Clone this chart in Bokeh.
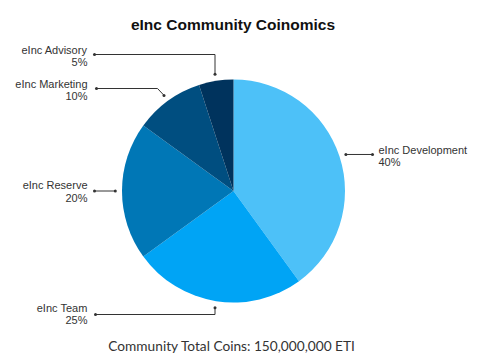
import math
from bokeh.plotting import figure
from bokeh.models import Range1d, ColumnDataSource
from bokeh.core.properties import value
from bokeh.embed import file_html
from bokeh.resources import INLINE

# ---- data ----
categories = ["eInc Development", "eInc Team", "eInc Reserve", "eInc Marketing", "eInc Advisory"]
shares = [40, 25, 20, 10, 5]
colors = ["#4DC1F8", "#00A4F5", "#0077B6", "#004E80", "#00335D"]
title_text = "eInc Community Coinomics"
footer_text = "Community Total Coins: 150,000,000 ETI"

# ---- layout (reference pixel coordinates, y downward) ----
W, H = 474, 355
CX, CY, R = 233.0, 190.5, 111.5
LEAD_R = 1.06 * R
# per label: side, lead_y, elbow_dx, end_x, text_x, line1_y, line2_y
layout = {
    "eInc Development": ("left", None, 0.0, 372.0, 378.0, 149.0, 161.0),
    "eInc Team": ("right", 314.0, 0.0, 95.0, 87.0, 307.5, 319.5),
    "eInc Reserve": ("right", None, 0.0, 94.0, 87.0, 184.0, 197.0),
    "eInc Marketing": ("right", 88.0, -6.5, 96.0, 87.0, 83.0, 95.5),
    "eInc Advisory": ("right", 54.0, 0.0, 94.0, 87.0, 49.0, 61.0),
}

def Y(y):
    return 363.0 - y

p = figure(width=W, height=H, output_backend="svg", toolbar_location=None,
           x_range=Range1d(0, W), y_range=Range1d(363 - H, 363),
           min_border=0)
p.axis.visible = False
p.grid.visible = False
p.outline_line_color = None
p.background_fill_color = "white"

total = float(sum(shares))
starts, ends, mids = [], [], []
c = 0.0
for s in shares:
    c0 = c / total
    c1 = (c + s) / total
    starts.append(math.pi / 2 - 2 * math.pi * c1)
    ends.append(math.pi / 2 - 2 * math.pi * c0)
    mids.append(2 * math.pi * (c0 + c1) / 2)  # clockwise from top
    c += s

src = ColumnDataSource(dict(x=[CX] * len(shares), y=[Y(CY)] * len(shares),
                            start=starts, end=ends, color=colors))
p.wedge(x="x", y="y", radius=R, start_angle="start", end_angle="end",
        fill_color="color", line_color=None, source=src)

line_color = "#333333"
dots_x, dots_y = [], []
for cat, s, m in zip(categories, shares, mids):
    side, lead_y, edx, end_x, text_x, y1, y2 = layout[cat]
    ex = CX + LEAD_R * math.sin(m)
    ey = CY - LEAD_R * math.cos(m)
    if lead_y is None:
        lead_y = ey
        pts = [(ex, ey), (end_x, lead_y)]
    else:
        pts = [(ex, ey), (ex + edx, lead_y), (end_x, lead_y)]
    p.line([q[0] for q in pts], [Y(q[1]) for q in pts], line_color=line_color, line_width=1)
    dots_x += [pts[0][0], pts[-1][0]]
    dots_y += [Y(pts[0][1]), Y(pts[-1][1])]
    align = "right" if side == "right" else "left"
    p.text(x=[text_x], y=[Y(y1)], text=[cat], text_align=align, text_baseline="middle",
           text_font=value("Liberation Sans"), text_font_size="11px", text_color="#333333")
    p.text(x=[text_x], y=[Y(y2)], text=[f"{s}%"], text_align=align, text_baseline="middle",
           text_font=value("Liberation Sans"), text_font_size="11px", text_color="#333333")

p.scatter(dots_x, dots_y, size=3, fill_color=line_color, line_color=None)

p.text(x=[232.5], y=[Y(24)], text=[title_text], text_align="center", text_baseline="middle",
       text_font=value("Liberation Sans"), text_font_style="bold", text_font_size="15.5px",
       text_color="#111111")
p.text(x=[231.5], y=[Y(345)], text=[footer_text], text_align="center", text_baseline="middle",
       text_font=value("Lato"), text_font_size="13.7px", text_color="#333333")

open("out.html", "w").write(file_html(p, INLINE))
